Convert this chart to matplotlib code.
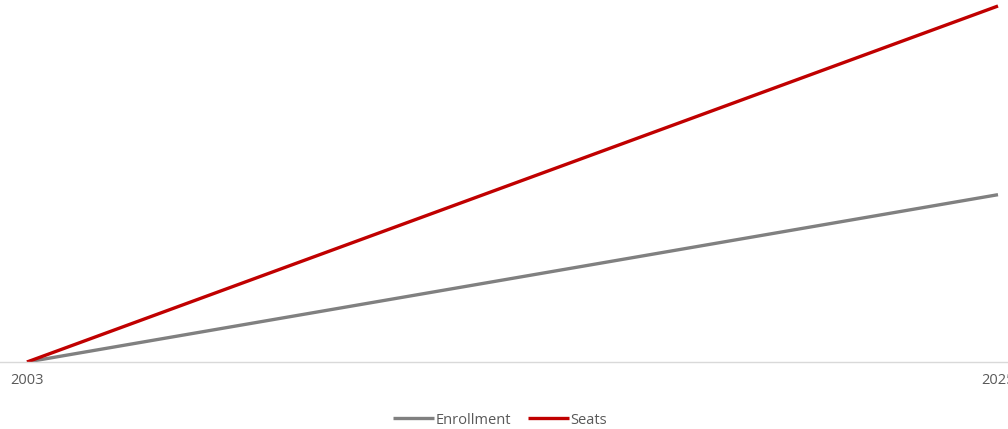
import matplotlib
matplotlib.use("Agg")
import matplotlib.pyplot as plt

years = ["2003", "2025"]
enrollment = [0, 47]
seats = [0, 100]

plt.rcParams['font.family'] = ['Open Sans', 'DejaVu Sans']

fig = plt.figure(figsize=(10.08, 4.29), dpi=100)
ax = fig.add_axes([0, (429 - 362) / 429, 1, 362 / 429])

x = list(range(len(years)))
l1, = ax.plot(x, enrollment, color="#808080", lw=2.4, solid_capstyle="butt", label="Enrollment")
l2, = ax.plot(x, seats, color="#C00000", lw=2.4, solid_capstyle="butt", label="Seats")

ax.set_xlim(-27 / 971, 1 + 10 / 971)
ax.set_ylim(0, 100 + 6 / 3.56)
ax.set_xticks(x)
ax.set_xticklabels(years, fontsize=10.5, color="#595959")
ax.tick_params(axis="x", length=0, pad=8)
ax.set_yticks([])
for s in ["top", "right", "left"]:
    ax.spines[s].set_visible(False)
ax.spines["bottom"].set_color("#D9D9D9")
ax.spines["bottom"].set_linewidth(1)

fig.legend(handles=[l1, l2], loc="center", bbox_to_anchor=(500 / 1008, 1 - 420 / 429),
           ncol=2, frameon=False, fontsize=10.5, labelcolor="#595959",
           handlelength=2.8, handletextpad=0.1, columnspacing=1.2)

fig.savefig("out.png", dpi=100)
